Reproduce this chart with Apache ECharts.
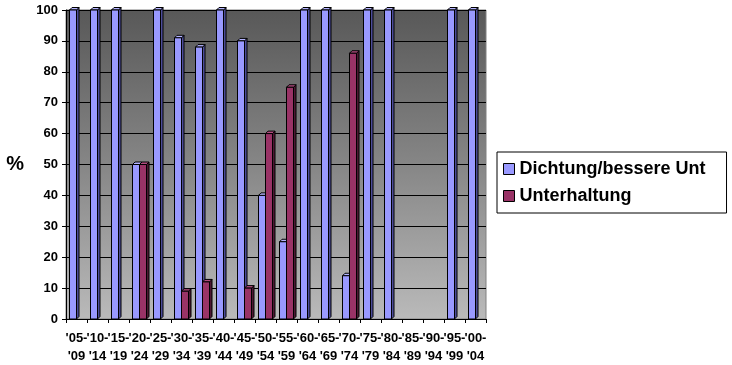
<!DOCTYPE html>
<html>
<head>
<meta charset="utf-8">
<script src="https://cdn.jsdelivr.net/npm/echarts@6/dist/echarts.min.js"></script>
<style>html,body{margin:0;padding:0;background:#fff}#c{width:732px;height:365px}</style>
</head>
<body>
<div id="c"></div>
<script>
var categories = ["'05-\n'09","'10-\n'14","'15-\n'19","'20-\n'24","'25-\n'29","'30-\n'34","'35-\n'39","'40-\n'44","'45-\n'49","'50-\n'54","'55-\n'59","'60-\n'64","'65-\n'69","'70-\n'74","'75-\n'79","'80-\n'84","'85-\n'89","'90-\n'94","'95-\n'99","'00-\n'04"];
var dichtung = [100,100,100,50,100,91,88,100,90,40,25,100,100,14,100,100,null,null,100,100];
var unterhaltung = [null,null,null,50,null,9,12,null,10,60,75,null,null,86,null,null,null,null,null,null];
var seriesNames = ['Dichtung/bessere Unt','Unterhaltung'];
var yTicks = [0,10,20,30,40,50,60,70,80,90,100];

function make3D(side, front, sideColor, topColor){
  return function(params, api){
    var v = api.value(1);
    if (v == null || isNaN(v)) return;
    var i = api.value(0);
    var base = api.coord([i, 0]);
    var top = api.coord([i, v]);
    var cw = api.size([1, 0])[0];
    var bw = cw / 3;
    var x = side === 0 ? base[0] - bw : base[0];
    var d = 2.5;
    var y0 = top[1], y1 = base[1];
    return {
      type: 'group',
      children: [
        {type:'polygon', shape:{points:[[x+bw,y0],[x+bw+d,y0-d],[x+bw+d,y1-d],[x+bw,y1]]}, style:{fill:sideColor, stroke:'#000', lineWidth:1}},
        {type:'polygon', shape:{points:[[x,y0],[x+d,y0-d],[x+bw+d,y0-d],[x+bw,y0]]}, style:{fill:topColor, stroke:'#000', lineWidth:1}},
        {type:'rect', shape:{x:x, y:y0, width:bw, height:y1-y0}, style:{fill:front, stroke:'#000', lineWidth:1}}
      ]
    };
  };
}

var chart = echarts.init(document.getElementById('c'), null, {renderer:'canvas'});
chart.setOption({
  animation: false,
  textStyle: {fontFamily: 'Liberation Sans, Arial, sans-serif'},
  grid: {
    left: 66, right: 246, top: 10, bottom: 46,
    show: true,
    borderColor: '#808080', borderWidth: 1,
    backgroundColor: new echarts.graphic.LinearGradient(0,0,0,1,[
      {offset:0, color:'#585858'},
      {offset:0.5, color:'#868686'},
      {offset:1, color:'#bababa'}
    ])
  },
  legend: {
    orient: 'vertical',
    left: 497, top: 152,
    backgroundColor: '#fff',
    borderColor: '#000', borderWidth: 1,
    padding: [8, 21, 8, 6],
    itemGap: 9,
    itemWidth: 11, itemHeight: 11,
    icon: 'rect',
    textStyle: {fontSize: 18, fontWeight: 'bold', color: '#000', fontFamily: 'Liberation Sans, Arial, sans-serif'},
    data: [
      {name: seriesNames[0], itemStyle:{color:'#9999ff', borderColor:'#000', borderWidth:1}},
      {name: seriesNames[1], itemStyle:{color:'#993366', borderColor:'#000', borderWidth:1}}
    ]
  },
  xAxis: {
    type: 'category',
    data: categories,
    axisLine: {lineStyle:{color:'#000', width:1}},
    axisTick: {show:true, length:4, lineStyle:{color:'#000'}},
    axisLabel: {interval:0, fontSize:13, fontWeight:'bold', color:'#000', lineHeight:18, margin:10}
  },
  yAxis: {
    type: 'value',
    min: yTicks[0], max: yTicks[yTicks.length-1], interval: 10,
    name: '%',
    nameLocation: 'middle',
    nameRotate: 0,
    nameGap: 42,
    nameTextStyle: {fontSize: 20, fontWeight:'bold', color:'#000'},
    axisLine: {show:true, lineStyle:{color:'#000'}},
    axisTick: {show:true, length:4, lineStyle:{color:'#000'}},
    axisLabel: {fontSize:13, fontWeight:'bold', color:'#000', margin:8},
    splitLine: {show:true, lineStyle:{color:'#000', width:1}}
  },
  series: [
    {
      name: seriesNames[0], type: 'custom',
      itemStyle: {color:'#9999ff'},
      renderItem: make3D(0, '#9999ff', '#4d4d99', '#b3b3ff'),
      encode: {x:0, y:1},
      data: dichtung.map(function(v,i){return [i, v];})
    },
    {
      name: seriesNames[1], type: 'custom',
      itemStyle: {color:'#993366'},
      renderItem: make3D(1, '#993366', '#4d1933', '#b34d80'),
      encode: {x:0, y:1},
      data: unterhaltung.map(function(v,i){return [i, v];})
    }
  ]
});
</script>
</body>
</html>
